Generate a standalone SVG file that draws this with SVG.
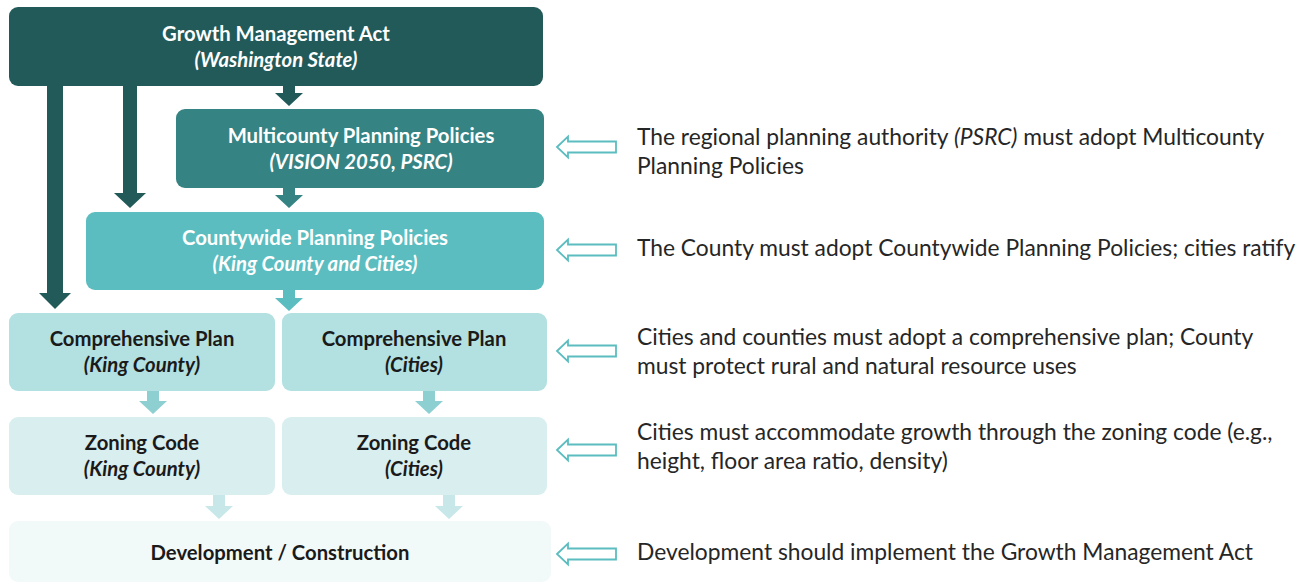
<svg xmlns="http://www.w3.org/2000/svg" width="1299" height="584" viewBox="0 0 1299 584">
  <style>
    .box { stroke: none; }
    .t { font-family: Lato, "Liberation Sans", sans-serif; font-weight: bold; font-size: 20.3px; text-anchor: middle; }
    .it { font-style: italic; }
    .w { fill: #ffffff; }
    .k { fill: #1a1a1a; }
    .note { font-family: Lato, "Liberation Sans", sans-serif; font-size: 22.8px; fill: #262626; }
    .hollow { fill: #ffffff; stroke: #5bbdbf; stroke-width: 1.8; stroke-linejoin: miter; }
  </style>
  <defs>
    <!-- left-pointing outline arrow used beside each level -->
    <path id="hollowArrow" class="hollow" d="M0,0 L11,-10.5 L11,-5.5 L59,-5.5 L59,5.5 L11,5.5 L11,10.5 Z"/>
  </defs>

  <rect width="1299" height="584" fill="#ffffff"/>

  <!-- connectors -->
  <g id="connectors">
    <polygon fill="#225a5a" points="47,80 63,80 63,293 71,293 55,309 39,293 47,293"/>
    <polygon fill="#225a5a" points="123,80 137,80 137,193 146,193 130,208 114,193 123,193"/>
    <polygon fill="#225a5a" points="283,80 295,80 295,93 303,93 289,106 275,93 283,93"/>
    <polygon fill="#358383" points="283,186 295,186 295,195 303,195 289,208 275,195 283,195"/>
    <polygon fill="#5bbdbf" points="283,288 295,288 295,298 303,298 289,311 275,298 283,298"/>
    <polygon fill="#8ed0d2" points="147,389 159,389 159,401 167,401 153,414 139,401 147,401"/>
    <polygon fill="#8ed0d2" points="423,389 435,389 435,401 443,401 429,414 415,401 423,401"/>
    <polygon fill="#c7e7e8" points="213,493 225,493 225,506 233,506 219,519 205,506 213,506"/>
    <polygon fill="#c7e7e8" points="443,493 455,493 455,506 463,506 449,519 435,506 443,506"/>
  </g>

  <!-- level boxes -->
  <g id="gma">
    <rect class="box" x="9" y="7" width="534" height="79" rx="9" fill="#225a5a"/>
    <text class="t w" x="276" y="41">Growth Management Act</text>
    <text class="t w it" x="276" y="67">(Washington State)</text>
  </g>
  <g id="multicounty">
    <rect class="box" x="176" y="109" width="368" height="79" rx="9" fill="#358383"/>
    <text class="t w" x="361" y="143">Multicounty Planning Policies</text>
    <text class="t w it" x="361" y="169">(VISION 2050, PSRC)</text>
  </g>
  <g id="countywide">
    <rect class="box" x="86" y="212" width="458" height="78" rx="9" fill="#5bbdbf"/>
    <text class="t w" x="315" y="245">Countywide Planning Policies</text>
    <text class="t w it" x="315" y="271">(King County and Cities)</text>
  </g>
  <g id="comp-king">
    <rect class="box" x="9" y="313" width="266" height="78" rx="9" fill="#b3e0e1"/>
    <text class="t k" x="142" y="346">Comprehensive Plan</text>
    <text class="t k it" x="142" y="372">(King County)</text>
  </g>
  <g id="comp-cities">
    <rect class="box" x="282" y="313" width="265" height="78" rx="9" fill="#b3e0e1"/>
    <text class="t k" x="414" y="346">Comprehensive Plan</text>
    <text class="t k it" x="414" y="372">(Cities)</text>
  </g>
  <g id="zoning-king">
    <rect class="box" x="9" y="417" width="266" height="78" rx="9" fill="#d9eeef"/>
    <text class="t k" x="142" y="450">Zoning Code</text>
    <text class="t k it" x="142" y="476">(King County)</text>
  </g>
  <g id="zoning-cities">
    <rect class="box" x="282" y="417" width="265" height="78" rx="9" fill="#d9eeef"/>
    <text class="t k" x="414" y="450">Zoning Code</text>
    <text class="t k it" x="414" y="476">(Cities)</text>
  </g>
  <g id="development">
    <rect class="box" x="9" y="521" width="542" height="61" rx="9" fill="#f2f9f9"/>
    <text class="t k" x="280" y="560">Development / Construction</text>
  </g>

  <!-- notes on the right -->
  <g id="notes">
    <use href="#hollowArrow" x="557" y="147"/>
    <use href="#hollowArrow" x="557" y="250"/>
    <use href="#hollowArrow" x="557" y="351"/>
    <use href="#hollowArrow" x="557" y="450"/>
    <use href="#hollowArrow" x="557" y="554"/>

    <text class="note" x="637" y="145">The regional planning authority <tspan class="it">(PSRC)</tspan> must adopt Multicounty</text>
    <text class="note" x="637" y="174">Planning Policies</text>
    <text class="note" x="637" y="256">The County must adopt Countywide Planning Policies; cities ratify</text>
    <text class="note" x="637" y="345">Cities and counties must adopt a comprehensive plan; County</text>
    <text class="note" x="637" y="374">must protect rural and natural resource uses</text>
    <text class="note" x="637" y="440">Cities must accommodate growth through the zoning code (e.g.,</text>
    <text class="note" x="637" y="469">height, floor area ratio, density)</text>
    <text class="note" x="637" y="560">Development should implement the Growth Management Act</text>
  </g>
</svg>
